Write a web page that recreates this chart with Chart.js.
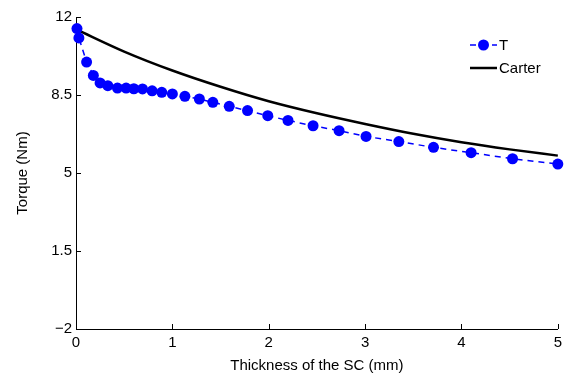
<!DOCTYPE html>
<html>
<head>
<meta charset="utf-8">
<script src="https://cdn.jsdelivr.net/npm/chart.js@4/dist/chart.umd.min.js"></script>
<style>
  html, body { margin: 0; padding: 0; background: #fff; }
  #wrap { width: 567px; height: 375px; }
</style>
</head>
<body>
<div id="wrap"><canvas id="torqueChart"></canvas></div>
<script>
// Thickness of the SC (mm) and measured torque T (Nm)
const thicknessT = [0.01, 0.03, 0.11, 0.18, 0.25, 0.33, 0.43, 0.52, 0.60, 0.69, 0.79, 0.89, 1.00, 1.13,
    1.28, 1.42, 1.59, 1.78, 1.99, 2.20, 2.46, 2.73, 3.01, 3.35, 3.71, 4.10, 4.53, 5.00];
const torqueT = [11.48, 11.06, 9.98, 9.38, 9.04, 8.92, 8.81, 8.81, 8.78, 8.77, 8.69, 8.62, 8.55, 8.44,
    8.32, 8.17, 7.99, 7.80, 7.57, 7.36, 7.12, 6.90, 6.64, 6.41, 6.15, 5.91, 5.64, 5.40];

// Carter curve
const thicknessCarter = [0, 0.5, 1, 1.5, 2, 2.5, 3, 3.5, 4, 4.5, 5];
const torqueCarter = [11.45, 10.45, 9.6, 8.87, 8.22, 7.68, 7.2, 6.76, 6.38, 6.06, 5.78];

const yTicks = [-2, 1.5, 5, 8.5, 12];
const xTicks = [0, 1, 2, 3, 4, 5];

const FONT = 'Liberation Sans, Arial, Helvetica, sans-serif';

// inward tick marks + legend box drawn inside the plot
const extrasPlugin = {
    id: 'extras',
    afterDraw(chart) {
        const c = chart.ctx;
        const xs = chart.scales.x, ys = chart.scales.y;
        c.save();
        c.strokeStyle = '#000';
        c.lineWidth = 1;
        c.beginPath();
        xTicks.forEach(v => {
            const px = Math.round(xs.getPixelForValue(v)) + 0.5;
            c.moveTo(px, ys.bottom);
            c.lineTo(px, ys.bottom - 5);
        });
        yTicks.forEach(v => {
            const py = Math.round(ys.getPixelForValue(v)) + 0.5;
            c.moveTo(xs.left, py);
            c.lineTo(xs.left + 5, py);
        });
        c.stroke();

        // legend
        const lx = 470, lw = 27;
        const rows = [45, 68];
        chart.data.datasets.forEach((ds, i) => {
            const y = rows[i];
            c.strokeStyle = ds.borderColor;
            c.lineWidth = ds.borderWidth;
            c.setLineDash(ds.borderDash || []);
            c.beginPath();
            c.moveTo(lx, y);
            c.lineTo(lx + lw, y);
            c.stroke();
            c.setLineDash([]);
            if (ds.pointRadius > 0) {
                c.fillStyle = ds.pointBackgroundColor;
                c.beginPath();
                c.arc(lx + lw / 2, y, ds.pointRadius, 0, Math.PI * 2);
                c.fill();
            }
            c.fillStyle = '#000';
            c.font = '15px ' + FONT;
            c.textBaseline = 'middle';
            c.textAlign = 'left';
            c.fillText(ds.label, lx + lw + 2, y + 1);
        });
        c.restore();
    }
};

const ctx = document.getElementById('torqueChart').getContext('2d');
const torqueChart = new Chart(ctx, {
    type: 'line',
    data: {
        datasets: [
            {
                label: 'T',
                data: thicknessT.map((x, i) => ({ x: x, y: torqueT[i] })),
                borderColor: '#0000ff',
                backgroundColor: '#0000ff',
                pointBackgroundColor: '#0000ff',
                pointBorderWidth: 0,
                borderWidth: 1.5,
                borderDash: [6, 5],
                pointRadius: 5.5,
                tension: 0,
                clip: false
            },
            {
                label: 'Carter',
                data: thicknessCarter.map((x, i) => ({ x: x, y: torqueCarter[i] })),
                borderColor: '#000000',
                borderWidth: 2.5,
                pointRadius: 0,
                cubicInterpolationMode: 'monotone',
                clip: false
            }
        ]
    },
    options: {
        responsive: true,
        maintainAspectRatio: false,
        animation: false,
        layout: { padding: { top: 17, right: 8, left: 0, bottom: 0 } },
        plugins: {
            legend: { display: false },
            tooltip: { enabled: false }
        },
        scales: {
            x: {
                type: 'linear',
                min: 0,
                max: 5,
                afterFit: (scale) => { scale.height = 46; },
                afterBuildTicks: (scale) => { scale.ticks = xTicks.map(v => ({ value: v })); },
                grid: { drawOnChartArea: false, drawTicks: false },
                border: { display: true, color: '#000', width: 1 },
                ticks: {
                    color: '#000',
                    padding: 5,
                    maxRotation: 0,
                    font: { family: FONT, size: 15 }
                },
                title: {
                    display: true,
                    text: 'Thickness of the SC (mm)',
                    color: '#000',
                    padding: { top: 0, bottom: 0 },
                    font: { family: FONT, size: 15 }
                }
            },
            y: {
                type: 'linear',
                min: -2,
                max: 12,
                afterFit: (scale) => { scale.width = 76; },
                afterBuildTicks: (scale) => { scale.ticks = yTicks.map(v => ({ value: v })); },
                grid: { drawOnChartArea: false, drawTicks: false },
                border: { display: true, color: '#000', width: 1 },
                ticks: {
                    color: '#000',
                    padding: 4,
                    font: { family: FONT, size: 15 },
                    callback: (v) => String(v).replace('-', '\u2212')
                },
                title: {
                    display: true,
                    text: 'Torque (Nm)',
                    color: '#000',
                    padding: { top: 14, bottom: 0 },
                    font: { family: FONT, size: 15 }
                }
            }
        }
    },
    plugins: [extrasPlugin]
});
</script>
</body>
</html>
